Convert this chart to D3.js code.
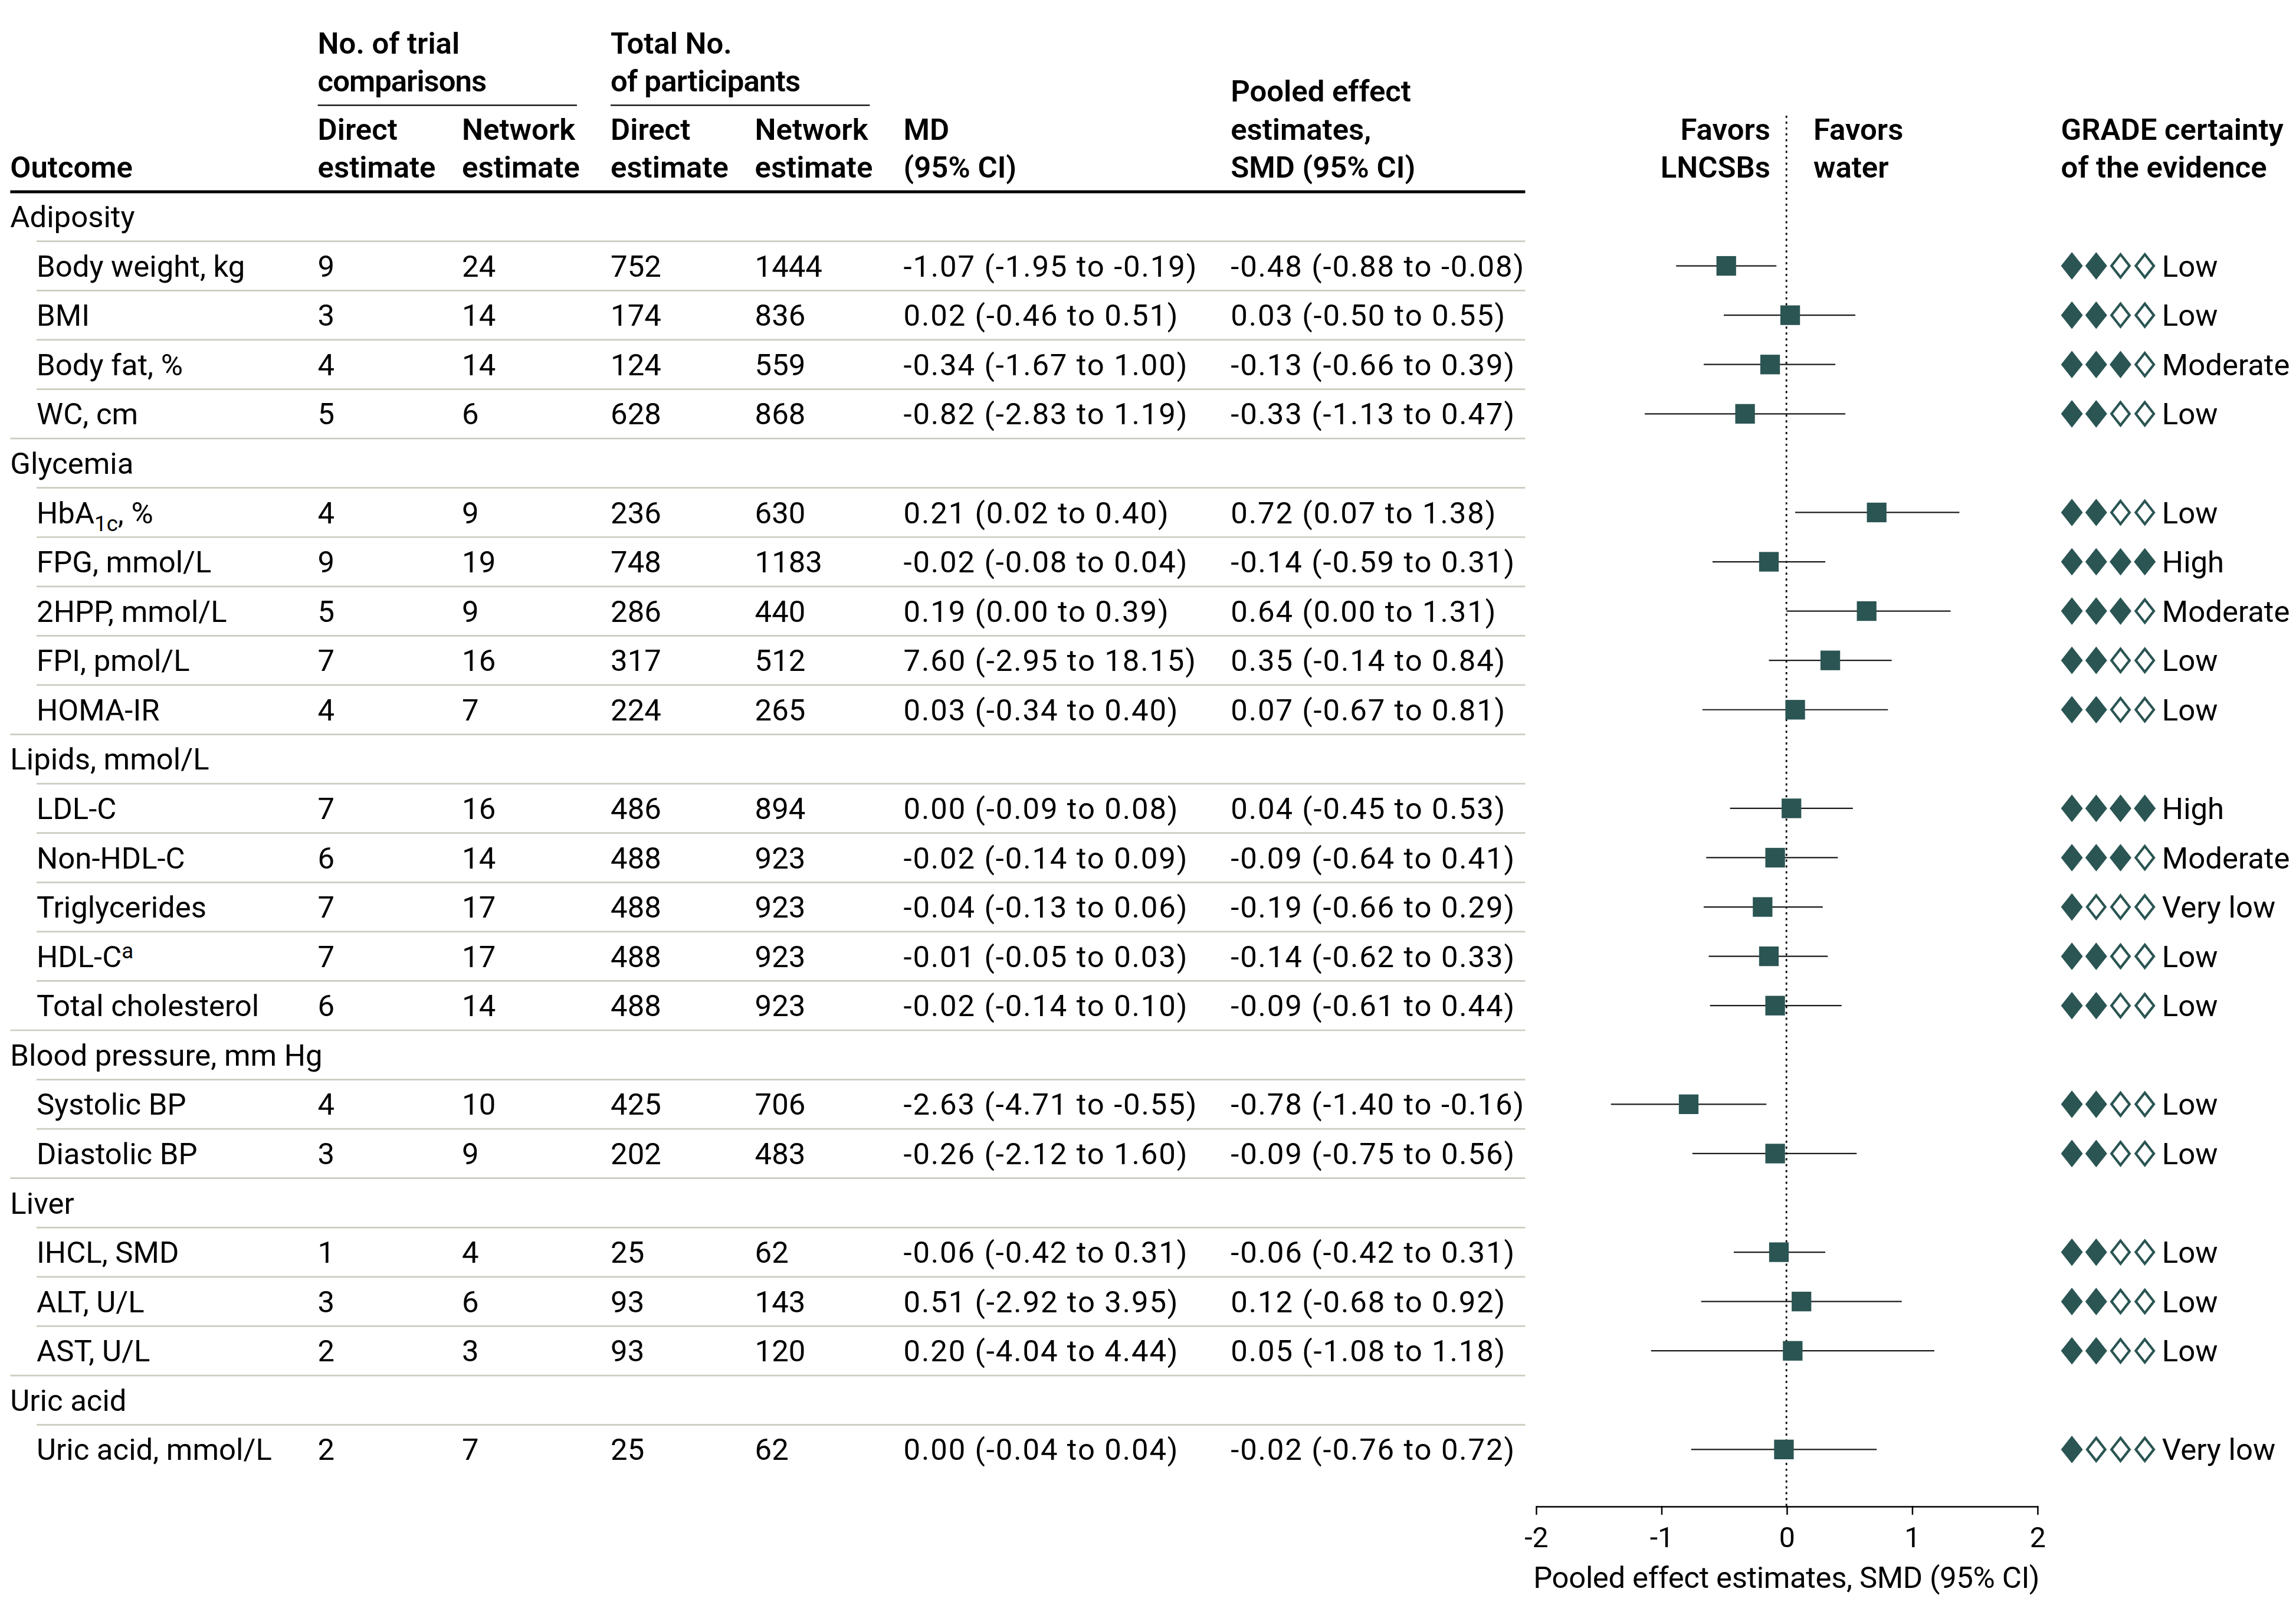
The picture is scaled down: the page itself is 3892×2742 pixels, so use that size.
<!DOCTYPE html>
<html>
<head>
<meta charset="utf-8">
<script src="https://cdn.jsdelivr.net/npm/d3@7"></script>
<style>
  html, body { margin: 0; padding: 0; background: #fff; }
  svg { display: block; }
  text { font-family: Roboto, "Liberation Sans", "DejaVu Sans", sans-serif; fill: #000; }
</style>
</head>
<body>
<div id="chart"></div>
<script>
// ---------------- DATA ----------------
const groupNames = ["Adiposity", "Glycemia", "Lipids, mmol/L", "Blood pressure, mm Hg", "Liver", "Uric acid"];
const groupSizes = [4, 5, 5, 2, 3, 1];
const outcomes = ["Body weight, kg", "BMI", "Body fat, %", "WC, cm",
  "HbA1c, %", "FPG, mmol/L", "2HPP, mmol/L", "FPI, pmol/L", "HOMA-IR",
  "LDL-C", "Non-HDL-C", "Triglycerides", "HDL-Ca", "Total cholesterol",
  "Systolic BP", "Diastolic BP",
  "IHCL, SMD", "ALT, U/L", "AST, U/L",
  "Uric acid, mmol/L"];
const directTrials = [9, 3, 4, 5, 4, 9, 5, 7, 4, 7, 6, 7, 7, 6, 4, 3, 1, 3, 2, 2];
const networkTrials = [24, 14, 14, 6, 9, 19, 9, 16, 7, 16, 14, 17, 17, 14, 10, 9, 4, 6, 3, 7];
const directParticipants = [752, 174, 124, 628, 236, 748, 286, 317, 224, 486, 488, 488, 488, 488, 425, 202, 25, 93, 93, 25];
const networkParticipants = [1444, 836, 559, 868, 630, 1183, 440, 512, 265, 894, 923, 923, 923, 923, 706, 483, 62, 143, 120, 62];
const md = [-1.07, 0.02, -0.34, -0.82, 0.21, -0.02, 0.19, 7.60, 0.03, 0.00, -0.02, -0.04, -0.01, -0.02, -2.63, -0.26, -0.06, 0.51, 0.20, 0.00];
const mdLow = [-1.95, -0.46, -1.67, -2.83, 0.02, -0.08, 0.00, -2.95, -0.34, -0.09, -0.14, -0.13, -0.05, -0.14, -4.71, -2.12, -0.42, -2.92, -4.04, -0.04];
const mdHigh = [-0.19, 0.51, 1.00, 1.19, 0.40, 0.04, 0.39, 18.15, 0.40, 0.08, 0.09, 0.06, 0.03, 0.10, -0.55, 1.60, 0.31, 3.95, 4.44, 0.04];
const smd = [-0.48, 0.03, -0.13, -0.33, 0.72, -0.14, 0.64, 0.35, 0.07, 0.04, -0.09, -0.19, -0.14, -0.09, -0.78, -0.09, -0.06, 0.12, 0.05, -0.02];
const smdLow = [-0.88, -0.50, -0.66, -1.13, 0.07, -0.59, 0.00, -0.14, -0.67, -0.45, -0.64, -0.66, -0.62, -0.61, -1.40, -0.75, -0.42, -0.68, -1.08, -0.76];
const smdHigh = [-0.08, 0.55, 0.39, 0.47, 1.38, 0.31, 1.31, 0.84, 0.81, 0.53, 0.41, 0.29, 0.33, 0.44, -0.16, 0.56, 0.31, 0.92, 1.18, 0.72];
const gradeLevel = [2, 2, 3, 2, 2, 4, 3, 2, 2, 4, 3, 1, 2, 2, 2, 2, 2, 2, 2, 1];
const gradeNames = ["", "Very low", "Low", "Moderate", "High"];
const xTicks = [-2, -1, 0, 1, 2];
const axisTitle = "Pooled effect estimates, SMD (95% CI)";

// ---------------- LAYOUT ----------------
const W = 1568, H = 1105;           // design units (scaled to 3892x2742)
const FS = 20.5;                     // body font size
const HFS = 20.5;                    // header font size
const teal = "#2a5553";
const sepColor = "#c9cdbf";

const col = { label: 7, sub: 25, dT: 217, nT: 315.5, dP: 417, nP: 515.5, md: 617, smd: 840.5, grade: 1407.5, gradeText: 1476.5 };
const tableRight = 1041.6;
const row0 = 147.9, rowStep = 33.68;

// Build row list
const rows = [];
let k = 0;
groupNames.forEach((g, gi) => {
  rows.push({ type: "group", label: g });
  for (let j = 0; j < groupSizes[gi]; j++) {
    rows.push({ type: "item", idx: k });
    k++;
  }
});
const y = d3.scaleLinear().domain([0, 1]).range([row0, row0 + rowStep]);
const x = d3.scaleLinear().domain([-2, 2]).range([1048.8, 1391.2]);

const svg = d3.select("#chart").append("svg")
  .attr("width", 3892).attr("height", 2742)
  .attr("viewBox", `0 0 ${W} ${H}`)
  .attr("preserveAspectRatio", "none");

// ---------------- HEADER ----------------
const hdr = svg.append("g").attr("font-weight", 600).attr("font-size", HFS);
const hText = (t, xx, yy, anchor) => hdr.append("text").attr("x", xx).attr("y", yy)
  .attr("text-anchor", anchor || "start").text(t);
const b1 = 36.5, b2 = 62.5, b3 = 95.4, b4 = 121.5, bP = 69.2;
hText("No. of trial", col.dT, b1);
hText("comparisons", col.dT, b2).attr("letter-spacing", -0.4);
hText("Total No.", col.dP, b1);
hText("of participants", col.dP, b2).attr("letter-spacing", -0.3);
hText("Direct", col.dT, b3); hText("estimate", col.dT, b4);
hText("Network", col.nT, b3); hText("estimate", col.nT, b4);
hText("Direct", col.dP, b3); hText("estimate", col.dP, b4);
hText("Network", col.nP, b3); hText("estimate", col.nP, b4);
hText("MD", col.md, b3); hText("(95% CI)", col.md, b4);
hText("Pooled effect", col.smd, bP); hText("estimates,", col.smd, b3); hText("SMD (95% CI)", col.smd, b4);
hText("Outcome", col.label, b4);
hText("Favors", 1209, b3, "end"); hText("LNCSBs", 1209, b4, "end");
hText("Favors", 1238.4, b3); hText("water", 1238.4, b4);
hText("GRADE certainty", col.grade, b3); hText("of the evidence", col.grade, b4);

svg.append("line").attr("x1", 217).attr("x2", 394).attr("y1", 71.9).attr("y2", 71.9)
  .attr("stroke", "#000").attr("stroke-width", 0.9);
svg.append("line").attr("x1", 417).attr("x2", 594).attr("y1", 71.9).attr("y2", 71.9)
  .attr("stroke", "#000").attr("stroke-width", 0.9);
svg.append("line").attr("x1", 7).attr("x2", tableRight).attr("y1", 131).attr("y2", 131)
  .attr("stroke", "#000").attr("stroke-width", 2);

// ---------------- SEPARATORS ----------------
const sepG = svg.append("g");
rows.forEach((r, i) => {
  if (i === rows.length - 1) return;
  const next = rows[i + 1];
  const yy = y(i + 0.5);
  sepG.append("line")
    .attr("x1", next.type === "group" ? col.label : col.sub)
    .attr("x2", tableRight)
    .attr("y1", yy).attr("y2", yy)
    .attr("stroke", sepColor).attr("stroke-width", 1.1);
});

// ---------------- TABLE TEXT ----------------
const body = svg.append("g").attr("font-size", FS);
const fmt = v => v.toFixed(2);
const base = i => y(i) + 7.3;

rows.forEach((r, i) => {
  if (r.type === "group") {
    body.append("text").attr("x", col.label).attr("y", base(i)).text(r.label);
    return;
  }
  const d = r.idx;
  const lab = outcomes[d];
  const t = body.append("text").attr("x", col.sub).attr("y", base(i));
  if (lab === "HbA1c, %") {
    t.append("tspan").text("HbA");
    t.append("tspan").attr("font-size", FS * 0.72).attr("dy", 5.5).text("1c");
    t.append("tspan").attr("dy", -5.5).text(", %");
  } else if (lab === "HDL-Ca") {
    t.append("tspan").text("HDL-C");
    t.append("tspan").attr("font-size", FS * 0.72).attr("dy", -6).text("a");
  } else {
    t.text(lab);
  }
  body.append("text").attr("x", col.dT).attr("y", base(i)).text(directTrials[d]);
  body.append("text").attr("x", col.nT).attr("y", base(i)).text(networkTrials[d]);
  body.append("text").attr("x", col.dP).attr("y", base(i)).text(directParticipants[d]);
  body.append("text").attr("x", col.nP).attr("y", base(i)).text(networkParticipants[d]);
  body.append("text").attr("x", col.md).attr("y", base(i)).attr("letter-spacing", 0.75)
    .text(`${fmt(md[d])} (${fmt(mdLow[d])} to ${fmt(mdHigh[d])})`);
  body.append("text").attr("x", col.smd).attr("y", base(i)).attr("letter-spacing", 0.75)
    .text(`${fmt(smd[d])} (${fmt(smdLow[d])} to ${fmt(smdHigh[d])})`);

  // GRADE diamonds
  const dw = 14.9, dh = 18.8, pitch = 16.6, sw = 1.7;
  for (let q = 0; q < 4; q++) {
    const cx = col.grade + dw / 2 + q * pitch, cy = y(i);
    const filled = q < gradeLevel[d];
    const hw = filled ? dw / 2 : dw / 2 - sw * 0.75, hh = filled ? dh / 2 : dh / 2 - sw * 0.9;
    body.append("path")
      .attr("d", `M${cx},${cy - hh}L${cx + hw},${cy}L${cx},${cy + hh}L${cx - hw},${cy}Z`)
      .attr("fill", filled ? teal : "#fff")
      .attr("stroke", filled ? "none" : teal)
      .attr("stroke-width", sw);
  }
  body.append("text").attr("x", col.gradeText).attr("y", base(i)).text(gradeNames[gradeLevel[d]]);
});

// ---------------- FOREST PLOT ----------------
const axisY = 1028.5;
svg.append("line").attr("x1", x(0)).attr("x2", x(0)).attr("y1", 79).attr("y2", axisY)
  .attr("stroke", "#000").attr("stroke-width", 1.1).attr("stroke-dasharray", "1.5 2.5");

const items = rows.map((r, i) => ({ r, i })).filter(o => o.r.type === "item");
const fp = svg.append("g");
fp.selectAll("line.ci").data(items).join("line").attr("class", "ci")
  .attr("x1", o => x(smdLow[o.r.idx])).attr("x2", o => x(smdHigh[o.r.idx]))
  .attr("y1", o => y(o.i)).attr("y2", o => y(o.i))
  .attr("stroke", "#1a1a1a").attr("stroke-width", 0.9);
const sq = 13.4;
fp.selectAll("rect.pt").data(items).join("rect").attr("class", "pt")
  .attr("x", o => x(smd[o.r.idx]) - sq / 2).attr("y", o => y(o.i) - sq / 2)
  .attr("width", sq).attr("height", sq).attr("fill", teal);

const axis = d3.axisBottom(x).tickValues(xTicks).tickSize(6).tickSizeOuter(0).tickPadding(8.2)
  .tickFormat(d => String(d));
const ag = svg.append("g").attr("transform", `translate(0,${axisY})`).call(axis);
ag.select(".domain").attr("stroke", "#000").attr("stroke-width", 1);
ag.selectAll(".tick line").attr("stroke", "#000").attr("stroke-width", 1);
ag.selectAll(".tick text").attr("font-size", 19.5).attr("font-family", null).attr("fill", "#000");
ag.attr("font-family", null);

svg.append("text").attr("x", x(0)).attr("y", 1084.5).attr("text-anchor", "middle")
  .attr("font-size", FS).attr("letter-spacing", -0.15).text(axisTitle);
</script>
</body>
</html>
